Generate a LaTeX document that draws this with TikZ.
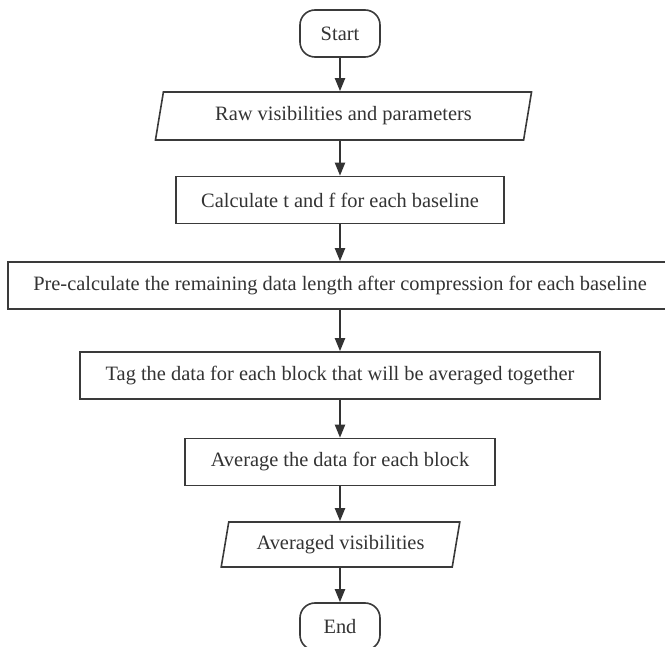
\documentclass[tikz,border=0pt]{standalone}
\usepackage{fontspec}
\setmainfont{Liberation Serif}
\usetikzlibrary{shapes.geometric,arrows.meta}
\definecolor{ln}{HTML}{3A3A3A}
\definecolor{ar}{HTML}{333333}
\definecolor{txt}{HTML}{333333}
\begin{document}
\begin{tikzpicture}[x=1pt,y=-1pt,
  every node/.style={font=\fontsize{20.4}{24}\selectfont, text=txt},
  box/.style={draw=ln, line width=1.6pt, minimum height=47pt, inner sep=0pt},
  term/.style={box, rounded corners=15pt, minimum width=80pt},
  io/.style={draw=ln, line width=1.6pt, trapezium, trapezium left angle=73, trapezium right angle=107, trapezium stretches=true, inner sep=0pt},
  arr/.style={draw=ar, line width=2pt, -{Triangle[length=13pt,width=10pt]}}
]
\useasboundingbox (0,0) rectangle (665,647);
\fill[white] (0,0) rectangle (665,647);

\node[term] (start) at (340,33.5) {Start};
\node[io, minimum width=377pt, minimum height=48pt] (raw) at (343.5,116) {Raw visibilities and parameters};
\node[box, minimum width=328pt] (calc) at (340,200) {Calculate t and f for each baseline};
\node[box, minimum width=664pt] (pre) at (340,285.5) {Pre-calculate the remaining data length after compression for each baseline};
\node[box, minimum width=520pt] (tag) at (340,375.5) {Tag the data for each block that will be averaged together};
\node[box, minimum width=310pt] (avg) at (340,462) {Average the data for each block};
\node[io, minimum width=239pt, minimum height=45pt] (out) at (340.5,544.5) {Averaged visibilities};
\node[term] (end) at (340,626.5) {End};

\draw[arr] (start.south) -- (start.south |- raw.north);
\draw[arr] (start.south |- raw.south) -- (start.south |- calc.north);
\draw[arr] (calc) -- (pre);
\draw[arr] (pre) -- (tag);
\draw[arr] (tag) -- (avg);
\draw[arr] (avg.south) -- (avg.south |- out.north);
\draw[arr] (avg.south |- out.south) -- (end);
\end{tikzpicture}
\end{document}
